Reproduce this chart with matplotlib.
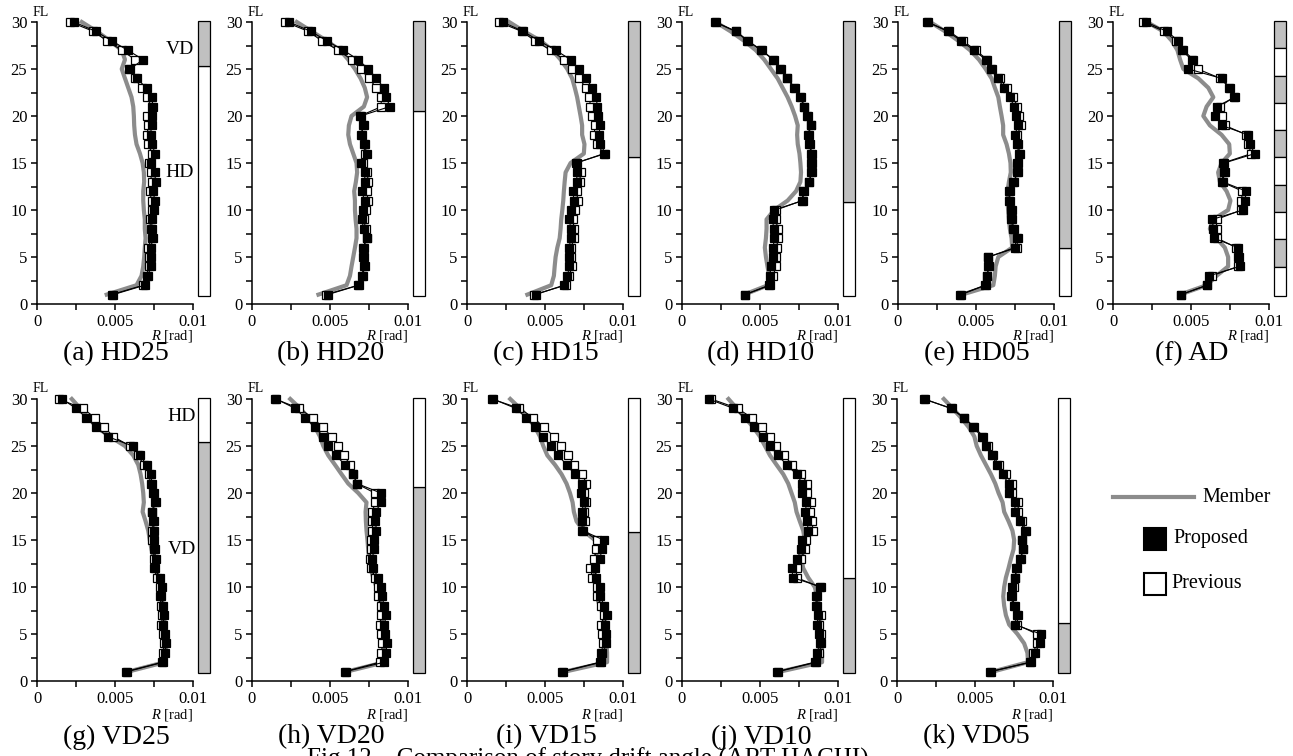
import numpy as np
import matplotlib
matplotlib.use('Agg')
import matplotlib.pyplot as plt
from matplotlib.patches import Rectangle
from matplotlib.lines import Line2D
from matplotlib.ticker import FixedLocator, MultipleLocator

plt.rcParams['font.family'] = ['Liberation Serif', 'DejaVu Serif']
plt.rcParams['mathtext.fontset'] = 'custom'
plt.rcParams['mathtext.rm'] = 'Liberation Serif'
plt.rcParams['mathtext.it'] = 'Liberation Serif:italic'

# ---------------- data (story drift angle, in 1e-3 rad; floors 30 -> 1) ----------------
floors = list(range(30, 0, -1))

hd25_member = [2.87,3.83,4.68,5.43,5.64,5.43,5.64,5.85,6.06,6.17,6.21,6.23,6.28,6.38,6.60,6.77,6.85,6.87,6.81,6.81,6.85,6.91,6.91,6.96,6.91,6.87,6.81,6.70,6.38,4.47]
hd25_proposed = [2.38,3.77,4.79,5.81,6.81,5.96,6.38,7.02,7.34,7.45,7.34,7.34,7.28,7.40,7.55,7.28,7.55,7.60,7.45,7.55,7.49,7.34,7.38,7.45,7.28,7.28,7.28,7.13,6.91,4.89]
hd25_previous = [2.13,3.62,4.47,5.43,6.28,5.90,6.28,6.70,7.02,7.34,7.02,7.13,7.06,7.13,7.38,7.19,7.28,7.34,7.23,7.34,7.34,7.23,7.28,7.34,7.13,7.17,7.17,7.02,6.81,4.79]

hd20_member = [2.87,3.83,4.79,5.64,6.17,6.60,6.96,7.23,7.38,7.17,6.38,6.21,6.17,6.28,6.49,6.70,6.74,6.66,6.55,6.60,6.60,6.64,6.70,6.70,6.60,6.49,6.38,6.28,6.06,4.26]
hd20_proposed = [2.38,3.77,4.79,5.85,6.81,7.45,7.98,8.45,8.62,8.83,6.96,7.13,7.02,7.23,7.34,6.96,7.23,7.23,7.02,7.23,7.13,7.02,7.17,7.34,7.17,7.17,7.23,7.09,6.85,4.85]
hd20_previous = [2.13,3.62,4.47,5.53,6.38,6.96,7.49,7.98,8.26,8.30,6.91,7.17,6.96,7.17,7.23,7.13,7.38,7.45,7.34,7.45,7.28,7.17,7.28,7.34,7.13,7.13,7.19,7.02,6.81,4.74]

hd15_member = [2.70,3.66,4.72,5.47,6.00,6.43,6.74,6.91,7.06,7.17,7.28,7.38,7.38,7.53,7.49,6.64,6.32,6.26,6.21,6.17,6.11,6.04,6.00,5.94,5.79,5.68,5.62,5.57,5.40,3.87]
hd15_proposed = [2.28,3.60,4.62,5.68,6.64,7.17,7.66,8.02,8.30,8.34,8.40,8.55,8.45,8.55,8.87,6.96,7.06,7.02,6.79,6.85,6.68,6.57,6.64,6.68,6.53,6.53,6.57,6.43,6.21,4.40]
hd15_previous = [2.02,3.51,4.36,5.36,6.21,6.74,7.21,7.60,7.85,7.91,8.02,8.23,8.13,8.34,8.77,7.02,7.28,7.23,7.02,7.11,6.91,6.81,6.85,6.85,6.68,6.68,6.70,6.57,6.32,4.30]

hd10_member = [2.15,3.12,3.98,4.73,5.27,5.70,6.13,6.45,6.77,7.03,7.25,7.42,7.38,7.42,7.53,7.59,7.63,7.59,7.31,6.77,5.91,5.42,5.42,5.38,5.31,5.38,5.48,5.59,5.52,3.98]
hd10_proposed = [2.15,3.48,4.24,5.10,5.87,6.34,6.73,7.25,7.63,7.85,8.06,8.28,8.11,8.22,8.32,8.32,8.32,8.17,7.81,7.74,5.91,5.81,5.87,5.91,5.85,5.81,5.70,5.63,5.59,4.04]
hd10_previous = [2.09,3.44,4.19,5.05,5.85,6.30,6.71,7.20,7.59,7.81,8.02,8.24,8.06,8.17,8.28,8.28,8.28,8.13,7.78,7.70,6.02,6.02,6.13,6.17,6.06,6.02,6.02,5.85,5.66,4.04]

hd05_member = [2.06,3.02,3.87,4.62,5.19,5.62,6.00,6.21,6.43,6.53,6.64,6.74,6.74,6.96,7.11,7.21,7.23,7.11,7.02,7.02,7.06,7.11,7.17,7.28,7.32,6.43,6.26,6.21,6.11,4.09]
hd05_proposed = [1.91,3.19,4.04,4.87,5.62,5.94,6.38,6.81,7.17,7.45,7.55,7.70,7.49,7.60,7.77,7.66,7.64,7.45,7.13,7.13,7.23,7.23,7.38,7.60,7.49,5.79,5.79,5.72,5.57,3.98]
hd05_previous = [1.85,3.28,4.15,4.98,5.72,6.04,6.53,6.96,7.38,7.66,7.77,7.87,7.66,7.70,7.81,7.70,7.70,7.38,7.17,7.17,7.28,7.28,7.45,7.70,7.60,5.79,5.83,5.72,5.62,4.04]

ad_member = [2.17,3.23,3.77,4.13,4.30,4.51,5.47,6.11,6.43,6.00,5.79,6.21,6.96,7.45,7.49,6.96,6.74,6.85,7.28,7.53,7.38,6.43,6.21,6.64,7.17,7.38,7.38,6.64,6.00,4.30]
ad_proposed = [2.13,3.45,4.19,4.40,5.04,4.83,6.96,7.49,7.81,6.64,6.57,6.96,8.66,8.77,9.09,7.13,7.17,7.02,8.55,8.45,8.34,6.36,6.43,6.47,8.02,8.09,8.13,6.17,6.04,4.36]
ad_previous = [1.91,3.30,4.04,4.51,5.15,5.43,6.89,7.45,7.74,6.85,6.96,7.17,8.55,8.66,8.87,7.06,7.11,6.96,8.30,8.23,8.23,6.64,6.64,6.68,7.91,8.02,8.02,6.32,6.04,4.36]

vd25_member = [2.23,2.77,3.30,3.83,4.68,5.64,6.17,6.49,6.64,6.74,6.81,6.85,6.77,6.96,7.13,7.23,7.34,7.49,7.60,7.77,7.87,7.98,8.04,8.13,8.19,8.23,8.26,8.23,8.19,5.85]
vd25_proposed = [1.60,2.51,3.15,3.79,4.53,6.13,6.60,7.02,7.28,7.38,7.49,7.60,7.40,7.49,7.49,7.49,7.55,7.60,7.55,7.87,8.02,7.98,8.09,8.15,8.09,8.19,8.30,8.19,8.09,5.79]
vd25_previous = [1.38,2.94,3.72,4.32,4.89,5.96,6.45,6.87,7.17,7.28,7.45,7.55,7.34,7.45,7.40,7.40,7.49,7.49,7.49,7.70,7.87,7.87,7.98,8.04,7.98,8.09,8.13,8.09,8.04,5.70]

vd20_member = [2.45,3.09,3.62,4.04,4.36,4.57,4.89,5.32,5.74,6.17,6.81,7.34,7.28,7.30,7.34,7.40,7.45,7.51,7.60,7.77,7.98,8.13,8.23,8.30,8.34,8.40,8.47,8.51,8.51,6.06]
vd20_proposed = [1.55,2.77,3.40,4.04,4.57,4.89,5.38,5.96,6.49,6.74,8.26,8.26,7.94,7.91,7.98,7.83,7.83,7.70,7.77,8.09,8.30,8.34,8.47,8.62,8.47,8.55,8.68,8.57,8.47,6.00]
vd20_previous = [1.49,3.02,3.89,4.53,5.11,5.49,5.91,6.28,6.49,6.70,7.87,7.91,7.70,7.72,7.72,7.60,7.62,7.55,7.62,7.91,8.09,8.09,8.26,8.30,8.19,8.26,8.36,8.30,8.19,5.96]

vd15_member = [2.77,3.40,3.94,4.36,4.68,4.89,5.15,5.64,6.06,6.38,6.60,6.77,6.85,7.02,7.45,8.19,8.30,8.26,8.19,8.19,8.30,8.30,8.51,8.72,8.83,8.89,8.94,8.98,8.98,6.28]
vd15_proposed = [1.66,3.13,3.79,4.36,4.89,5.36,5.85,6.38,6.91,7.38,7.30,7.51,7.34,7.38,7.38,8.77,8.66,8.51,8.23,8.26,8.55,8.55,8.79,8.98,8.83,8.89,8.94,8.68,8.62,6.17]
vd15_previous = [1.60,3.36,4.26,4.94,5.57,6.00,6.49,6.87,7.38,7.66,7.51,7.66,7.51,7.55,7.45,8.34,8.30,8.15,7.91,8.04,8.34,8.36,8.62,8.79,8.62,8.68,8.72,8.62,8.51,6.11]

vd10_member = [2.98,3.51,4.04,4.57,5.00,5.32,5.64,6.06,6.49,6.81,7.02,7.23,7.34,7.55,7.77,7.87,7.77,7.66,7.77,8.09,8.51,8.66,8.72,8.79,8.83,8.87,8.94,8.98,8.98,6.28]
vd10_proposed = [1.70,3.30,4.04,4.64,5.21,5.64,6.17,6.70,7.34,7.72,7.70,7.98,7.91,8.02,8.09,7.72,7.62,7.40,7.06,7.09,8.94,8.62,8.57,8.72,8.66,8.77,8.83,8.66,8.51,6.11]
vd10_previous = [1.87,3.57,4.47,5.11,5.64,6.02,6.55,7.06,7.66,8.04,8.04,8.30,8.19,8.34,8.40,7.98,7.91,7.62,7.34,7.34,8.83,8.66,8.66,8.89,8.79,8.89,8.94,8.79,8.62,6.17]

vd05_member = [3.00,3.57,4.11,4.60,4.96,5.11,5.38,5.70,6.02,6.30,6.51,6.77,6.87,7.15,7.40,7.51,7.47,7.30,7.15,6.98,6.87,6.81,6.87,6.98,7.19,7.72,8.15,8.36,8.40,6.13]
vd05_proposed = [1.77,3.43,4.28,4.89,5.43,5.70,6.09,6.40,6.77,7.15,7.19,7.55,7.57,7.89,8.19,8.00,8.09,7.89,7.66,7.57,7.40,7.30,7.47,7.68,7.55,9.21,9.15,8.85,8.57,6.02]
vd05_previous = [1.70,3.51,4.32,4.96,5.53,5.81,6.17,6.51,6.98,7.34,7.34,7.77,7.77,8.00,8.26,8.04,8.09,7.94,7.68,7.57,7.47,7.36,7.55,7.77,7.68,8.96,8.96,8.74,8.53,5.98]

# damper-type bar: boundary floor between upper / lower zone
hd_split = [25.3, 20.5, 15.65, 10.8, 6.0]
vd_split = [25.4, 20.66, 15.8, 10.97, 6.18]
ad_bounds = [30.15, 27.2, 24.3, 21.4, 18.5, 15.6, 12.7, 9.76, 6.92, 3.97, 0.85]

hd_labels = ['(a) HD25', '(b) HD20', '(c) HD15', '(d) HD10', '(e) HD05', '(f) AD']
vd_labels = ['(g) VD25', '(h) VD20', '(i) VD15', '(j) VD10', '(k) VD05']

x_ticks = [0, 0.005, 0.01]
x_ticklabels = ['0', '0.005', '0.01']
legend_labels = ['Member', 'Proposed', 'Previous']
fig_caption = 'Fig.12    Comparison of story drift angle (ART HACHI)'

# ---------------- styling ----------------
W, H = 1293, 756
fig = plt.figure(figsize=(W / 100, H / 100), dpi=100)
fig.patch.set_facecolor('white')

def fx(px):
    return px / W

def fy(py):
    return 1 - py / H

MEMBER_C = '#8c8c8c'
GRAY_FILL = '#c0c0c0'
UNIT = 1e-3
AX_W = 156
top_row = dict(ytop=22, ybot=304, r_off=32, cap_off=50)
bot_row = dict(ytop=399, ybot=681, r_off=34, cap_off=56)
col_x_top = [37, 252, 467, 682, 898, 1113]
col_x_bot = [37, 252, 467, 682, 897]
BAR_X0, BAR_X1 = 0.01032, 0.01109
BAR_BOT, BAR_TOP = 0.85, 30.15


def make_axes(x0, row, label):
    ax = fig.add_axes([fx(x0), fy(row['ybot']), AX_W / W, (row['ybot'] - row['ytop']) / H])
    ax.set_xlim(0, 0.01)
    ax.set_ylim(0, 30)
    ax.set_facecolor('none')
    for s in ['top', 'right']:
        ax.spines[s].set_visible(False)
    for s in ['left', 'bottom']:
        ax.spines[s].set_linewidth(1.1)
    ax.xaxis.set_major_locator(FixedLocator(x_ticks))
    ax.set_xticklabels(x_ticklabels)
    ax.xaxis.set_minor_locator(FixedLocator([0.0025, 0.0075]))
    ax.yaxis.set_major_locator(MultipleLocator(5))
    ax.yaxis.set_minor_locator(MultipleLocator(2.5))
    ax.tick_params(which='both', direction='out', length=4, width=1.1, labelsize=12)
    ax.tick_params(axis='x', pad=3)
    ax.tick_params(axis='y', pad=3)
    fig.text(fx(x0 - 4), fy(row['ytop'] - 10), 'FL', ha='left', va='center', fontsize=10)
    fig.text(fx(x0 + AX_W), fy(row['ybot'] + row['r_off']), r'$R$ [rad]',
             ha='right', va='center', fontsize=10.5)
    fig.text(fx(x0 + AX_W / 2 + 1), fy(row['ybot'] + row['cap_off']), label,
             ha='center', va='center', fontsize=20)
    return ax


def draw_series(ax, member, proposed, previous):
    ax.plot(np.array(member) * UNIT, floors, color=MEMBER_C, lw=3.0,
            solid_joinstyle='round', zorder=2, clip_on=False)
    ax.plot(np.array(previous) * UNIT, floors, color='black', lw=0.8, marker='s',
            ms=6, mfc='white', mec='black', mew=0.9, zorder=3, clip_on=False)
    ax.plot(np.array(proposed) * UNIT, floors, color='black', lw=0.8, marker='s',
            ms=6, mfc='black', mec='black', mew=0.9, zorder=4, clip_on=False)


def draw_bar(ax, segments):
    # segments: list of (bottom, top, color)
    for b, t, c in segments:
        ax.add_patch(Rectangle((BAR_X0, b), BAR_X1 - BAR_X0, t - b, facecolor=c,
                               edgecolor='black', lw=0.9, clip_on=False, zorder=1))


top_sets = [
    (hd25_member, hd25_proposed, hd25_previous),
    (hd20_member, hd20_proposed, hd20_previous),
    (hd15_member, hd15_proposed, hd15_previous),
    (hd10_member, hd10_proposed, hd10_previous),
    (hd05_member, hd05_proposed, hd05_previous),
    (ad_member, ad_proposed, ad_previous),
]
bot_sets = [
    (vd25_member, vd25_proposed, vd25_previous),
    (vd20_member, vd20_proposed, vd20_previous),
    (vd15_member, vd15_proposed, vd15_previous),
    (vd10_member, vd10_proposed, vd10_previous),
    (vd05_member, vd05_proposed, vd05_previous),
]

for i, (lab, data) in enumerate(zip(hd_labels, top_sets)):
    ax = make_axes(col_x_top[i], top_row, lab)
    draw_series(ax, *data)
    if i < 5:
        s = hd_split[i]
        draw_bar(ax, [(BAR_BOT, s, 'white'), (s, BAR_TOP, GRAY_FILL)])
    else:
        segs = []
        for k in range(len(ad_bounds) - 1):
            segs.append((ad_bounds[k + 1], ad_bounds[k], GRAY_FILL if k % 2 == 0 else 'white'))
        draw_bar(ax, segs)
    if i == 0:
        ax.text(0.01005, 27.1, 'VD', ha='right', va='center', fontsize=14)
        ax.text(0.01005, 14.0, 'HD', ha='right', va='center', fontsize=14)

for i, (lab, data) in enumerate(zip(vd_labels, bot_sets)):
    ax = make_axes(col_x_bot[i], bot_row, lab)
    draw_series(ax, *data)
    s = vd_split[i]
    draw_bar(ax, [(BAR_BOT, s, GRAY_FILL), (s, BAR_TOP, 'white')])
    if i == 0:
        ax.text(0.0102, 28.1, 'HD', ha='right', va='center', fontsize=14)
        ax.text(0.0102, 13.95, 'VD', ha='right', va='center', fontsize=14)

# ---------------- legend ----------------
fig.add_artist(Line2D([fx(1113), fx(1194)], [fy(497), fy(497)], transform=fig.transFigure,
                      color=MEMBER_C, lw=3.0))
fig.text(fx(1202), fy(497), legend_labels[0], ha='left', va='center', fontsize=14.5)
fig.add_artist(Line2D([fx(1154.5)], [fy(538.5)], transform=fig.transFigure, ls='none',
                      marker='s', ms=15.5, mfc='black', mec='black', mew=1.5))
fig.text(fx(1173), fy(538), legend_labels[1], ha='left', va='center', fontsize=14.5)
fig.add_artist(Line2D([fx(1154.5)], [fy(583.5)], transform=fig.transFigure, ls='none',
                      marker='s', ms=15.5, mfc='white', mec='black', mew=1.5))
fig.text(fx(1171), fy(583), legend_labels[2], ha='left', va='center', fontsize=14.5)

# ---------------- figure caption (cut at bottom edge, as in the source) ----------------
fig.text(fx(588), fy(766), fig_caption, ha='center', va='baseline', fontsize=18)

fig.savefig('out.png', dpi=100)
